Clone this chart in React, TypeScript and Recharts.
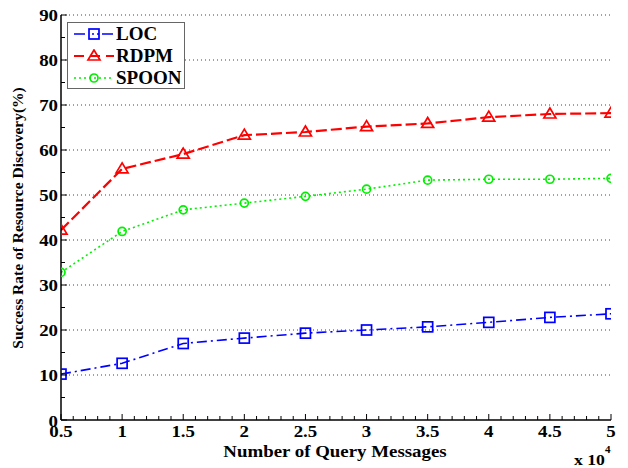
import React from 'react';
import { LineChart, Line, XAxis, YAxis, ReferenceLine, Legend, Label } from 'recharts';

const xValues = [0.5, 1, 1.5, 2, 2.5, 3, 3.5, 4, 4.5, 5];
const locValues = [10.2, 12.6, 17.0, 18.2, 19.3, 20.0, 20.7, 21.7, 22.8, 23.6];
const rdpmValues = [42.2, 55.8, 59.1, 63.3, 64.0, 65.2, 65.9, 67.3, 68.0, 68.2];
const spoonValues = [32.8, 41.9, 46.7, 48.2, 49.7, 51.3, 53.3, 53.5, 53.5, 53.7];

const xMajorTicks = [0.5, 1, 1.5, 2, 2.5, 3, 3.5, 4, 4.5, 5];
const xMajorLabels = ['0.5', '1', '1.5', '2', '2.5', '3', '3.5', '4', '4.5', '5'];
const yMajorTicks = [0, 10, 20, 30, 40, 50, 60, 70, 80, 90];
const gridValues = [10, 20, 30, 40, 50, 60, 70, 80, 90];

const xAllTicks: number[] = [];
for (let i = 5; i <= 50; i++) xAllTicks.push(Math.round(i) / 10);
const yAllTicks: number[] = [];
for (let v = 0; v <= 90; v += 5) yAllTicks.push(v);

const data = xValues.map((x, i) => ({ x, loc: locValues[i], rdpm: rdpmValues[i], spoon: spoonValues[i] }));

const FONT = '"Liberation Serif", "Times New Roman", serif';
const BLUE = '#0000ff';
const RED = '#ff0000';
const GREEN = '#00f000';
const SX = 1.18;

const isMajorX = (v: number) => xMajorTicks.some((m) => Math.abs(m - v) < 1e-6);

const XTick = (props: any) => {
  const { x, y, payload } = props;
  const v = payload.value;
  const major = isMajorX(v);
  const idx = xMajorTicks.findIndex((m) => Math.abs(m - v) < 1e-6);
  return (
    <g>
      <line x1={x} x2={x} y1={y} y2={y - (major ? 6 : 4)} stroke="#000" strokeWidth={1} />
      {major && (
        <text
          transform={`translate(${x}, ${y + 17}) scale(${SX}, 1)`}
          textAnchor="middle"
          fontFamily={FONT}
          fontWeight="bold"
          fontSize={16}
          fill="#000"
        >
          {xMajorLabels[idx]}
        </text>
      )}
    </g>
  );
};

const YTick = (props: any) => {
  const { x, y, payload } = props;
  const v = payload.value;
  const major = yMajorTicks.includes(v);
  return (
    <g>
      <line x1={x} x2={x + (major ? 6 : 4)} y1={y} y2={y} stroke="#000" strokeWidth={1} />
      {major && (
        <text
          transform={`translate(${x - 3}, ${y + (v === 0 ? 7 : 5.5)}) scale(${SX}, 1)`}
          textAnchor="end"
          fontFamily={FONT}
          fontWeight="bold"
          fontSize={16}
          fill="#000"
        >
          {String(v)}
        </text>
      )}
    </g>
  );
};

const SquareDot = (props: any) => {
  const { cx, cy } = props;
  if (cx == null || cy == null) return null;
  return <rect x={cx - 5} y={cy - 5} width={10} height={10} fill="none" stroke={BLUE} strokeWidth={1.7} />;
};
const TriDot = (props: any) => {
  const { cx, cy } = props;
  if (cx == null || cy == null) return null;
  return <polygon points={`${cx},${cy - 6} ${cx - 6},${cy + 4} ${cx + 6},${cy + 4}`} fill="none" stroke={RED} strokeWidth={1.7} />;
};
const CircDot = (props: any) => {
  const { cx, cy } = props;
  if (cx == null || cy == null) return null;
  return <circle cx={cx} cy={cy} r={4} fill="none" stroke={GREEN} strokeWidth={1.7} />;
};

const series = [
  { key: 'loc', name: 'LOC', color: BLUE, width: 1.6, marker: 'square' },
  { key: 'rdpm', name: 'RDPM', color: RED, width: 2, marker: 'tri' },
  { key: 'spoon', name: 'SPOON', color: GREEN, width: 1.6, marker: 'circ' },
];

const LegendIcon = ({ s }: { s: any }) => (
  <svg width={44} height={14} style={{ display: 'block' }}>
    <line
      x1={2}
      x2={42}
      y1={7}
      y2={7}
      stroke={s.color}
      strokeWidth={s.width}
      strokeDasharray={s.key === 'loc' ? '11 7 2 3 2 3' : s.key === 'rdpm' ? '10 6' : '2 3'}
    />
    {s.marker === 'square' && <rect x={17} y={2} width={10} height={10} fill="none" stroke={s.color} strokeWidth={1.7} />}
    {s.marker === 'tri' && <polygon points="22,1 16,11 28,11" fill="none" stroke={s.color} strokeWidth={1.7} />}
    {s.marker === 'circ' && <circle cx={22} cy={7} r={4} fill="none" stroke={s.color} strokeWidth={1.7} />}
  </svg>
);

const renderLegend = () => (
  <div
    style={{
      width: 116,
      height: 65,
      border: '1.5px solid #666',
      background: '#fff',
      boxSizing: 'content-box',
    }}
  >
    {series.map((s) => (
      <div key={s.key} style={{ display: 'flex', alignItems: 'center', height: 22 }}>
        <div style={{ marginLeft: 4 }}>
          <LegendIcon s={s} />
        </div>
        <span style={{ fontFamily: FONT, fontWeight: 'bold', fontSize: 19, marginLeft: 0, color: '#000', lineHeight: '22px' }}>
          {s.name}
        </span>
      </div>
    ))}
  </div>
);

export default function App() {
  return (
    <div style={{ position: 'absolute', left: 0, top: 0, width: 628, height: 468, background: '#fff' }}>
      <LineChart width={628} height={468} data={data} margin={{ top: 15, right: 17, left: 0, bottom: 0 }}>
        {gridValues.map((g) => (
          <ReferenceLine key={g} y={g} stroke="#444" strokeWidth={1} strokeDasharray="1 3" />
        ))}
        <XAxis
          dataKey="x"
          type="number"
          domain={[0.5, 5]}
          ticks={xAllTicks}
          interval={0}
          tickSize={0}
          tickMargin={0}
          tickLine={false}
          tick={<XTick />}
          height={48}
          axisLine={{ stroke: '#000', strokeWidth: 1.5 }}
          allowDataOverflow
        >
          <Label
            content={() => (
              <g>
                <text
                  transform={`translate(335, 457) scale(${SX}, 1)`}
                  textAnchor="middle"
                  fontFamily={FONT}
                  fontWeight="bold"
                  fontSize={16}
                  fill="#000"
                >
                  Number of Query Messages
                </text>
                <text transform={`translate(574, 465) scale(${SX}, 1)`} fontFamily={FONT} fontWeight="bold" fontSize={15} fill="#000">
                  x 10
                </text>
                <text x={605} y={453} fontFamily={FONT} fontWeight="bold" fontSize={11} fill="#000">
                  4
                </text>
              </g>
            )}
          />
        </XAxis>
        <YAxis
          type="number"
          domain={[0, 90]}
          ticks={yAllTicks}
          interval={0}
          tickSize={0}
          tickMargin={0}
          tickLine={false}
          tick={<YTick />}
          width={61}
          axisLine={{ stroke: '#000', strokeWidth: 1.5 }}
        >
          <Label
            content={() => (
              <text
                x={23}
                y={218}
                transform="rotate(-90, 23, 218)"
                textAnchor="middle"
                fontFamily={FONT}
                fontWeight="bold"
                fontSize={15.5}
                fill="#000"
              >
                Success Rate of Resource Discovery(%)
              </text>
            )}
          />
        </YAxis>
        <Legend
          layout="vertical"
          align="center"
          verticalAlign="middle"
          content={renderLegend}
          wrapperStyle={{ position: 'absolute', left: 67, top: 22, width: 119, height: 68 }}
        />
        <Line
          dataKey="loc"
          name="LOC"
          stroke={BLUE}
          strokeWidth={1.6}
          strokeDasharray="10 4 2 4"
          dot={<SquareDot />}
          isAnimationActive={false}
          type="linear"
        />
        <Line
          dataKey="rdpm"
          name="RDPM"
          stroke={RED}
          strokeWidth={2.2}
          strokeDasharray="11 4"
          dot={<TriDot />}
          isAnimationActive={false}
          type="linear"
        />
        <Line
          dataKey="spoon"
          name="SPOON"
          stroke={GREEN}
          strokeWidth={1.6}
          strokeDasharray="2 3"
          dot={<CircDot />}
          isAnimationActive={false}
          type="linear"
        />
      </LineChart>
    </div>
  );
}
